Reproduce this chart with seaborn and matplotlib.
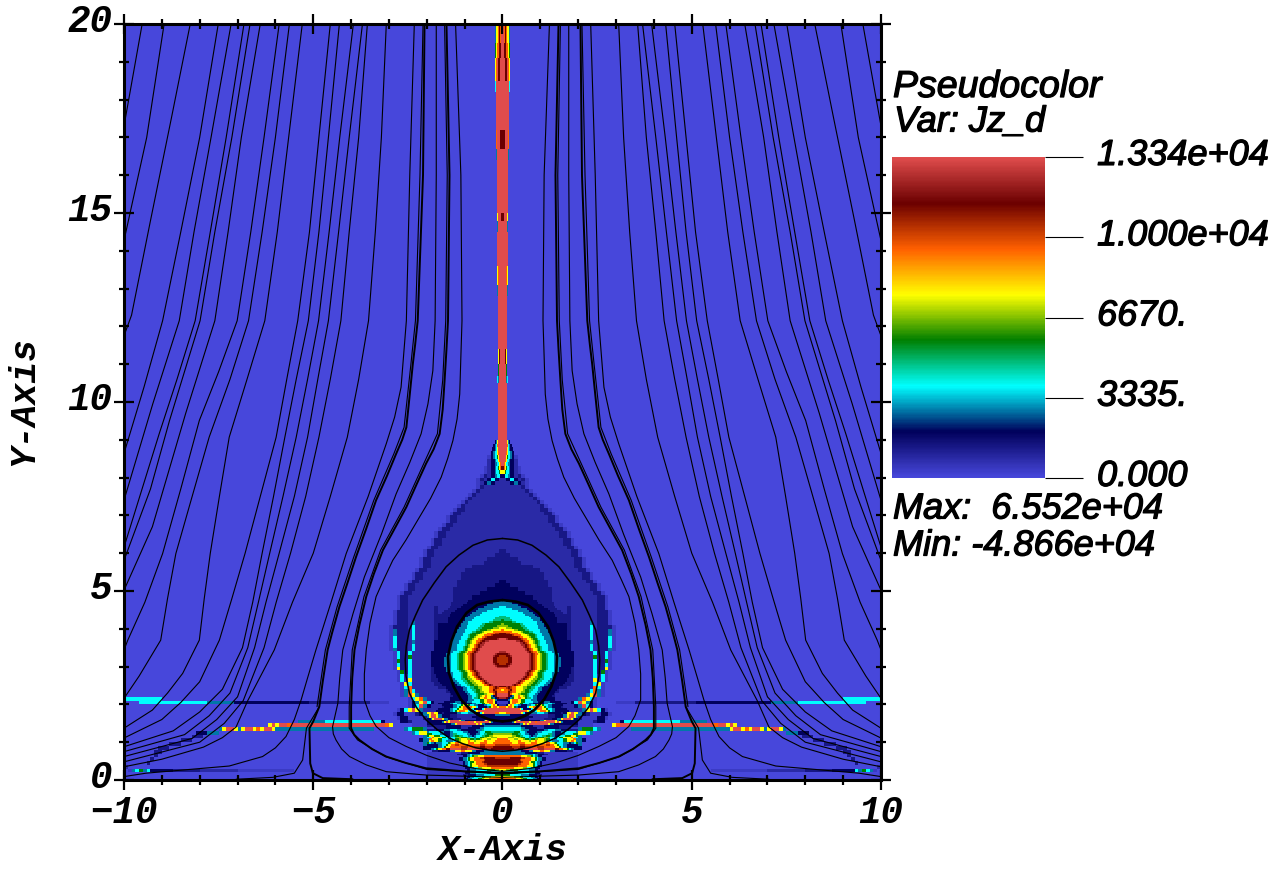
import re

import matplotlib

matplotlib.use("Agg")
import matplotlib.patheffects as pe
import matplotlib.pyplot as plt
import numpy as np
import seaborn as sns
from matplotlib.colors import LinearSegmentedColormap
from matplotlib.ticker import MultipleLocator
from matplotlib.transforms import ScaledTranslation

# VisIt "hot desaturated" colour table
CMAP_POS = [0.0, 0.143, 0.285, 0.429, 0.571, 0.714, 0.857, 1.0]
CMAP_RGB = ["#4747db", "#00005b", "#00ffff", "#007f00", "#ffff00", "#ff6000", "#6b0000", "#e04c4c"]

# Jz levels used by the character rows below
LEVEL_CHARS = ".aben" + "tcsgl" + "yohdk" + "r"
LEVEL_VALUES = [0, 350, 800, 1300, 1900, 2800, 3800, 4800, 5700, 6700, 7620, 9500, 10500, 11430, 12400, 13340]

# half grid x=0..10 in 0.1 cells, rows from y=8.9 down to y=0.0
JZ_NEAR = [
    "...",
    "...",
    "...",
    "...",
    "...a",
    "...b",
    "...b",
    "...ba",
    "...ba",
    "...bea",
    "b n c n b e a",
    "b b n t n b a",
    "bbbbb e a",
    "bbbbb b e a",
    "bbbbb bb e a",
    "bbbbb bbb e a",
    "bbbbb bbbb e a",
    "bbbbb bbbbb e a",
    "bbbbb bbbbb ee a",
    "bbbbb bbbbb b ee a",
    "bbbbb bbbbb bb ee a",
    "bbbbb bbbbb bb ee a",
    "bbbbb bbbbb bbb ee a",
    "bbbbb bbbbb bbbb ee a",
    "bbbbb bbbbb bbbbb ee a",
    "bbbbb bbbbb bbbbb ee a",
    "bbbbb bbbbb bbbbb b ee a",
    "bbbbb bbbbb bbbbb b ee a",
    "bbbbb bbbbb bbbbb bb ee a",
    "ebbbb bbbbb bbbbb bbb ee a",
    "eebbb bbbbb bbbbb bbb ee a",
    "eeeeb bbbbb bbbbb bbbb ee a",
    "eeeee bbbbb bbbbb bbbb ee a",
    "eeeee eeebb bbbbb bbbb ee a",
    "eeeee eeeee bbbbb bbbbb ee a",
    "eeeee eeeee ebbbb bbbbb b ee a",
    "eeeee eeeee ebbbb bbbbb b ee a",
    "neeee eeeee eebbb bbbbb bb ee a",
    "nneee eeeee eebbb bbbbb bbb ee a",
    "nnnne eeeee eeebb bbbbb bbb ee a",
    "nnnnn neeee eeebb bbbbb bbbb ee a",
    "nnnnn nnnee eeebb bbbbb bbbbb ee a",
    "nnnnn nnnnn eeeee ebbbb bbbbb ee a",
    "tttt nnnnnnnnnn eee bbbbbbbb ee a",
    "cc tttt nnnnnnnnn eee bbbbbbb ee a",
    "ccccc tt nnnnnnnn eee bbbbbbb eee a",
    "s cccccc tt nnnnnn eee bbbbbbb eee a",
    "sss ccccc tt nnnnnn ee bbbbbbb eee a",
    "gggg s cccc tt nnnnn ee bbbbb t b eee a",
    "gggggg s ccc tt nnnn ee bbbbb c b eee e a",
    "oo yy ggg s ccc tt nnnn e bbbbb c b eee t a",
    "dd oo yy gg s cc tt nnnn e bbbbb c b eee t a",
    "dddd oo y gg s cc tt nnn e bbbbb c b eee c a",
    "rrrr dd o y g s cc tt nnnn bbbbb t b eee c a",
    "rrrrr d h o y g cc tt nnnn bbbbb c b eee c a",
    "k rrrrr d o y g cc tt nnnn bbbbb c b eee t a",
    "hd rrrrr d o y g cc t t nnnn bbbbb c ee c a",
    "hd rrrrr d o y g cc t t nnnn bbbbb g ee c a",
    "hd rrrrr d o y g cc t t nnnn bbbbb c ee g a",
    "dk rrrrr d o y g cc t t nnnn bbbbb c ee c a",
    "rrrrrr d o y g cc tt nnnn e bbbbb c ee y a",
    "rrrrrr d o y g cc tt nnnn e bbbbb c e g a",
    "rrrrr d o y g s cc tt nnn ee bbbbb c b c a",
    "rrrr d o y l g s c tt nnnn ee bbbbb y b c a",
    "rrr d o yy gg s c tt nnn ee bbbbbb c y a",
    "oo d o yy l g s c tt nnn ee bbbbbbb o c a",
    "rr d o y l gg s c t nn ee bbbbbbbb c o t a",
    "kd o yy g s c tt nn ee bbbbbbbb t y r t a",
    "nn d y l g c t nn e bbbbbbbbb t o y c a",
    "aa y o y c t n t c t n ee bbbb n c r y t n a",
    "oo y ooo y c y o y c t nn e bbb n t r c n a",
    "rrrrrr o y t c t nn ee bbbbbb t y r y c n a",
    "nn t y t nnnn bbbb eee n y r y t n e aaa nn a",
    "nnnnn bbbbbbbb t y rr y t n e aaaa nn a",
    "nnnnn t y rrrrrrr y t n e aaaaaa e nn",
    "cc tt nnn tt ccc t nn eee t n aaaa",
    "lll g s t n t cccc ttt nn ee n t ggg c t",
    "yyyy l g c t c gg s c t n aa t c gyy c t",
    "ooo yy l yy l g s c t n t c yy g c t",
    "ooo yyy ooo yyy ooo g c t n t t n",
    "hhh ooo hhh oooo yy oo y g c t",
    "ddd rrrr dddd rrrrr o y c t n",
    "ttttt ttt n e a",
    "ooooo oo y g c t a",
    "ddddd h o y g c t a",
    "ddddd h o y g c a",
    "ooooo o y c c t a",
    "ccccc c t t n",
    "yyyyy y g c c t n a",
    "ooooo o y g c t n a",
]

# thin features further out: row y, first cell, text
FAR_Y = [2.0, 2.1, 1.5, 1.4, 1.3, 1.3, 1.2, 0.2, 0.2, 0.3, 0.4, 0.5, 0.6, 0.7, 0.8, 0.9, 1.0, 1.1]
FAR_START = [30, 90, 31, 29, 34, 59, 75, 55, 93, 99, 93, 92, 91, 90, 88, 85, 82, 79]
FAR_TEXT = [
    "aaaaaeeeeeeeeeeeeeeeennnnnnnnnnnnnnnnnnnntttttttcccccccccccccccccc",
    "cccccccccc",
    "ncccccccccccccccttttttt",
    "yorrrrrrrrrrrrrrrrrrrrrrrrrorryry",
    "ttttttttttttttttttttttttt",
    "tyrryoyrrytyrryt",
    "tttnnn",
    "aaaaaaaaaaaaaaabbbbbbbbbbeeeeeeennnnnn",
    "ctgcta",
    "b",
    "e",
    "e",
    "e",
    "ee",
    "eee",
    "eee",
    "eee",
    "eee",
]

# finer patch round the bubble: x=0..2 in 0.05 cells, rows from y=4.75 down to y=0.0
# run lengths, level letter then number of cells
BUBBLE_RLE = [
    "n16 e10 b8",
    "t2 n16 e8 b8",
    "t5 n14 e8 b7",
    "t8 n13 e6 b7",
    "c2 t8 n12 e6 b6",
    "c5 t8 n11 e5 b5",
    "c8 t6 n11 e6 b3",
    "c11 t5 n11 e5 b2",
    "c12 t5 n11 e6",
    "s2 c12 t4 n10 e6",
    "s4 c11 t5 n9 e5",
    "g1 s4 c11 t4 n9 e5",
    "g5 s2 c11 t3 n8 e5",
    "l1 g8 s2 c7 t4 n12",
    "l3 g7 s2 c7 t3 n12",
    "y2 l3 g6 s2 c6 t4 n11",
    "o1 y5 l2 g4 s2 c6 t4 n10",
    "o5 y5 l1 g3 s2 c4 t4 n10",
    "d2 h2 o4 y3 l1 g4 s1 c4 t4 n9",
    "d5 h1 o4 y3 l1 g3 s1 c3 t4 n9",
    "d8 h1 o2 y3 l1 g2 s1 c4 t4 n8",
    "r2 k1 d7 h1 o2 y2 l1 g2 s1 c3 t4 n8",
    "r7 k2 d2 h1 o2 y2 l1 g2 s1 c3 t4 n7",
    "r9 k2 d1 h1 o1 y2 l1 g2 s1 c3 t4 n7",
    "r10 k2 d1 h1 o1 y2 l1 g1 s1 c4 t3 n7",
    "r11 k1 d1 h1 o1 y2 l1 g2 s1 c3 t4 n6",
    "r12 k1 d1 h1 o1 y2 l1 g1 s1 c3 t4 n6",
    "r12 k1 d1 h1 o1 y2 l1 g1 s1 c3 t4 n6",
    "k2 r11 k1 d1 h1 o2 y1 l1 g2 s1 c3 t3 n6",
    "d3 k1 r10 k1 d1 h1 o2 y1 l1 g2 s1 c3 t3 n6",
    "h2 d2 k1 r9 k1 d1 h1 o1 y2 l1 g2 s1 c3 t3 n6",
    "h3 d2 r9 k1 d1 h1 o1 y2 l1 g2 s1 c3 t4 n5",
    "h3 d2 r9 k1 d1 h1 o1 y2 l1 g2 s1 c3 t4 n5",
    "h3 d2 r9 k1 d1 h1 o1 y2 l1 g2 s1 c3 t4 n5",
    "h2 d2 k1 r9 k1 d1 h1 o1 y2 l1 g2 s1 c3 t4 n5",
    "d3 k1 r10 k1 d1 h1 o1 y2 l1 g2 s1 c3 t4 n5",
    "k3 r11 k1 d1 h1 o1 y2 l1 g2 s1 c3 t3 n6",
    "r14 k1 d1 h1 o1 y2 l1 g2 s1 c3 t3 n6",
    "r13 k1 d1 h1 o1 y2 l1 g2 s1 c4 t3 n6",
    "r12 k1 d1 h1 o1 y2 l1 g2 s1 c4 t2 n7",
    "r12 k1 d1 h1 o1 y2 l1 g2 s1 c4 t2 n7",
    "r11 k1 d1 h1 o1 y2 l2 g2 s1 c4 t2 n7",
    "r10 k1 d1 h1 o1 y2 l2 g2 s2 c3 t2 n7",
    "r8 k1 d1 h1 o1 y3 l2 g2 s2 c3 t2 n8",
    "r7 k1 d1 h1 o1 y3 l2 g2 s2 c3 t2 n8",
    "r5 k1 d1 h1 o2 y3 l2 g2 s2 c3 t2 n8",
    "d2 k1 d1 h1 o2 y4 l2 g2 s2 c3 t2 n8",
    "o2 h1 d1 h1 o2 y4 l2 g2 s2 c2 t2 n8",
    "y1 o2 h1 d1 o2 y4 l1 g2 s2 c3 t2 n8",
    "o3 d1 h1 o2 y3 l2 g2 s1 c3 t2 n8",
    "r3 d1 o1 y3 l2 g3 s1 c3 t2 n8",
    "r3 d1 n1 t1 y2 o1 y2 l1 g1 s1 c2 t2 n8",
    "k2 d1 n1 t1 g1 y2 o2 y2 g1 s2 c1 t2 n10",
    "n3 t1 y1 o3 y2 g2 c3 t3 n10",
    "a3 n1 y1 o3 y2 g2 c4 t3 n3 t3 n6",
    "a3 n1 y1 o2 y2 g2 c3 t2 n6 t2 c2 t2 n6",
    "b2 n1 y1 o1 y1 c2 t2 n3 t2 c2 g1 y3 g1 c2 t2 n6",
    "o2 y1 o2 y1 g1 t1 n5 c1 y2 o5 y1 g1 c1 t2 n5",
    "r8 o1 y1 c1 n4 c1 y1 o4 y2 g1 c2 t2 n6",
    "r12 o1 y1 c1 n1 t1 c1 y2 o3 y1 g1 c1 t2 n7",
    "y2 o2 r6 y1 c1 n3 t3 c4 t2 n7",
    "t4 n10 b10 e4 n4 t2 y1 o1 r2 y1 t1",
    "n16 b8 e4 n4 t2 y1 r3 y1 t1",
    "n14 b8 e4 n3 t2 y1 r4 y1 t1 n2",
    "n3 t1 y1 r3 y1 t1 n10 t2 y1 r5 y1 t1 n10",
    "n5 t1 y1 r4 o1 r2 y1 r2 o1 r10 y1 r1 y1 t1 n8",
    "n9 t2 y1 r1 y1 r10 y1 t2 n13",
    "t10 n6 b6 n8 e10",
    "c10 t2 n6 b4 n8 e6 a4",
    "c10 s1 t3 n8 t2 c4 t3 n4 e5",
    "s6 g3 c3 t1 n5 t3 c5 t2 n3 t2 c6 t1",
    "l5 g3 s2 c2 t2 n3 t2 c5 s2 t2 n3 t2 c4 g3",
    "y5 l2 g2 s2 c3 t1 n1 t2 c3 s2 g2 s1 t2 n2 c3 g3 y3 g1",
    "y3 l3 y2 l2 g2 c2 t1 c2 s2 g3 l2 s1 c2 t1 c2 g2 y4 o1 y1",
    "o3 y3 l2 y3 l1 g2 s1 g2 l2 y3 l1 g2 c2 t2 c3 g2 y3 o2",
    "o4 y4 o2 y4 l1 y2 o1 y4 l1 g1 c2 t4 c2 g2 y2 o2 y1",
    "o5 y3 o4 y3 o3 y5 o2 y2 l1 g1 c3 t3 n1 t2 c1 g1",
    "h4 o5 h3 o6 h1 o4 h2 o2 y2 g1 c2 t2 n6",
    "d5 h4 d3 h3 o3 h4 o6 y2 g1 c1 t2 n6",
    "d6 k2 d3 r8 k3 r6 d2 o2 y2 g1 c1 t2 n2",
    "t10 n4 t2 y4 o2 y3 t3 n6 e3",
    "t12 n6 e4 a18",
    "t16 c1 t2 n3 e2 a16",
    "o10 y3 l2 g1 c1 t2 n2 a19",
    "h4 d6 h2 o3 y2 g1 c1 t2 n2 a17",
    "d9 h1 o5 y2 g1 c1 t2 n2 a17",
    "d10 h1 o3 y1 g2 c1 t2 n1 a19",
    "d8 h2 o4 y2 g1 c1 t2 n1 a19",
    "h8 o5 y3 g1 c1 t1 n2 a19",
    "o6 y5 l2 c2 t2 n3 a20",
    "y2 l2 g4 c6 t3 n2 a21",
    "c6 t8 n3 e2 a21",
    "t8 c6 t3 n3 a20",
    "g4 c6 t4 n4 e3 a19",
    "y6 l3 g2 c4 t2 n2 a21",
    "o7 y3 l1 g2 c3 t2 n2 a20",
]

# jet along x=0 from y=8.0 upward: x in 0.03 cells, rows in 0.1 steps
JET_RLE = [
    "n2 c3 t2 n3", "y2 g1 c3 t1 n3", "d1 o1 y1 g1 c2 t1 n3", "r1 o1 y1 c2 t2 n3", "r2 o1 y1 c2 t1 n3",
    "r3 y1 g1 c2 t1 n2", "r3 o1 y1 c2 t1 n2", "r4 y1 c1 t1 n2", "r4 o1 c1 t1 n1", "r4 y1 t1 n1",
    "r4", "r3 t1 c1", "r3 g1", "r2 d1 y1", "r4", "r4 t1", "r3 o1 y1", "r5", "r4 t1", "d1 r3 y1", "r5",
    "r5 t1", "d2 r3 o1", "r6", "r6 c1", "r2 d2 r1 o1 y1", "r1 d2 o2 y1 g1", "r1 o1 d1 o1 y2 t1",
]
JET_COUNT = [1, 1, 1, 1, 1, 1, 1, 1, 1, 1, 15, 2, 3, 4, 14, 3, 5, 9, 3, 2, 14, 3, 5, 10, 3, 6, 4, 5]

# field lines, left half, each also drawn mirrored
LINES_X = [
    [-9.52, -10.0],
    [-8.94, -9.4, -10.0],
    [-8.25, -8.75, -9.3, -9.8, -10.0],
    [-7.51, -8.0, -8.5, -8.98, -9.47, -10.0],
    [-7.17, -7.7, -8.15, -8.54, -9.24, -10.0],
    [-6.83, -7.3, -7.72, -8.12, -8.6, -9.07, -10.0],
    [-6.67, -7.15, -7.6, -7.99, -8.8, -9.3, -10.0],
    [-6.4, -6.9, -7.25, -7.6, -8.37, -9.25, -10.0],
    [-5.9, -6.3, -6.65, -7.01, -7.5, -8.01, -8.5, -8.98, -9.45, -9.9, -10.0],
    [-5.63, -6.0, -6.35, -6.71, -7.2, -7.75, -8.2, -8.63, -8.85, -9.03, -9.6, -10.0],
    [-5.29, -5.65, -5.95, -6.28, -6.75, -7.22, -7.48, -7.72, -7.88, -8.01, -8.45, -8.85, -9.25, -10.0],
    [-4.55, -4.85, -5.1, -5.41, -5.7, -5.98, -6.4, -6.8, -7.15, -7.48, -8.0, -8.5, -9.0, -10.0],
    [-4.31, -4.6, -4.85, -5.13, -5.45, -5.75, -6.05, -6.35, -6.6, -6.87, -7.4, -8.0, -8.7, -10.0],
    [-3.94, -4.3, -4.58, -4.86, -5.15, -5.45, -5.8, -6.15, -6.45, -6.73, -7.2, -7.75, -8.4, -10.0],
    [-3.7, -4.05, -4.33, -4.6, -4.88, -5.15, -5.5, -5.9, -6.25, -6.55, -7.0, -7.55, -8.2, -10.0],
    [-3.57, -3.8, -4.05, -4.27, -4.55, -4.85, -5.2, -5.6, -5.98, -6.3, -6.85, -7.35, -8.0, -10.0],
    [-3.07, -3.2, -3.36, -3.54, -3.8, -4.1, -4.55, -5.0, -5.55, -6.03, -6.73, -7.04, -7.4, -7.9, -9.0, -10.0],
    [-2.33, -2.45, -2.54, -2.68, -2.85, -3.07, -3.55, -4.13, -4.53, -4.93, -5.15, -5.32, -5.5, -5.72, -6.0, -6.34,
     -7.22, -9.42, -10.0],
    [-1.75, -1.75, -1.78, -1.84, -1.97, -2.15, -2.45, -2.81, -3.2, -3.65, -3.95, -4.22, -4.3, -4.35, -4.49, -4.47,
     -4.4, -4.25, -4.04, -3.6, -3.07, -2.0, -0.96, 0.0],
    [-1.24, -1.1, -1.07, -1.1, -1.13, -1.2, -1.31, -1.45, -1.62, -1.9, -2.19, -2.55, -2.9, -3.14, -3.34, -3.5, -3.6,
     -3.65, -3.65, -3.5, -3.34, -3.0, -2.55, -2.0, -1.4, -0.7, 0.0],
    [-4.84, -5.18, -5.28, -5.5, -6.07, -7.04],
    [-2.1, -2.18, -2.3, -2.42, -2.6, -2.87, -3.4, -3.93, -4.37, -4.68, -4.9],
    [-1.53, -1.46, -1.5, -1.58, -1.72, -2.08, -2.6, -3.22, -3.66, -3.97, -4.05, -4.05, -3.83, -3.1, -2.0, 0.0],
]
LINES_Y = [
    [20, 17.3],
    [20, 17, 14.27],
    [20, 17.5, 14.8, 12.3, 11.75],
    [20, 17, 14.5, 12.15, 10.4, 8.64],
    [20, 17, 14.5, 12.15, 9.95, 7.4],
    [20, 17, 14.5, 12.15, 10.6, 9.16, 6.16],
    [20, 17, 14.5, 12.15, 9.5, 7.7, 5.81],
    [20, 17, 14.5, 12.15, 9.7, 6.7, 5.02],
    [20, 17, 14.5, 12.15, 10.8, 9.51, 7.7, 5.99, 4.7, 3.7, 3.44],
    [20, 17, 14.5, 12.15, 10.6, 9.07, 7.5, 5.99, 4.8, 3.7, 2.75, 2.16],
    [20, 17, 14.5, 12.15, 10.6, 9.07, 7.5, 6, 4.8, 3.7, 2.82, 2.3, 1.85, 1.37],
    [20, 17, 14.5, 12.15, 10.6, 9.07, 7.5, 6, 4.8, 3.7, 2.6, 2.05, 1.6, 1.11],
    [20, 17, 14.5, 12.15, 10.6, 9.07, 7.5, 6, 4.7, 3.5, 2.4, 1.8, 1.3, 0.88],
    [20, 17, 14.5, 12.15, 10.6, 9.07, 7.5, 6, 4.7, 3.5, 2.3, 1.7, 1.2, 0.75],
    [20, 17, 14.5, 12.15, 10.6, 9.07, 7.5, 6, 4.7, 3.5, 2.2, 1.6, 1.1, 0.62],
    [20, 17, 14.5, 12.15, 10.6, 9.07, 7.5, 6, 4.7, 3.5, 2.1, 1.5, 1.0, 0.48],
    [20, 17, 14.5, 12.15, 10.6, 9.07, 7.5, 6, 4.7, 3.44, 2.1, 1.4, 1.12, 0.87, 0.55, 0.35],
    [20, 16, 12.15, 10.39, 9.6, 8.9, 7.5, 5.99, 4.7, 3.44, 2.7, 2.12, 1.6, 1.15, 0.85, 0.62, 0.37, 0.18, 0.09],
    [20, 16, 12.15, 10.83, 9.95, 9.16, 8.4, 7.57, 6.5, 5.37, 4.4, 3.44, 2.7, 2.03, 1.41, 1.22, 1.06, 0.82, 0.62, 0.4,
     0.22, 0.13, 0.1, 0.07],
    [20, 16, 12.15, 11.2, 10.21, 9.55, 8.98, 8.5, 8.01, 7.45, 6.96, 6.35, 5.81, 5.3, 4.85, 4.15, 3.44, 2.8, 2.12, 1.7,
     1.42, 1.12, 0.89, 0.65, 0.45, 0.3, 0.23],
    [1.94, 1.37, 0.53, 0.18, 0.07, 0.02],
    [20, 16, 12.15, 11.0, 9.33, 8.63, 7.4, 5.9, 4.58, 3.44, 1.94],
    [20, 16, 12.15, 10.57, 9.16, 8.37, 7.22, 6.08, 4.85, 3.44, 1.94, 1.37, 1.06, 0.62, 0.28, 0.16],
]
THICK_X = [
    [-2.06, -2.1, -2.24, -2.31, -2.37, -2.45, -2.54, -2.65, -2.81, -3.05, -3.34, -3.6, -3.87, -4.1, -4.31, -4.5,
     -4.62, -4.75, -4.84, -5.0, -5.1, -5.08, -5.01, -4.75, -3.96],
    [-1.48, -1.4, -1.44, -1.48, -1.53, -1.58, -1.66, -1.82, -2.02, -2.28, -2.54, -2.85, -3.16, -3.4, -3.6, -3.78,
     -3.91, -3.97, -4.0, -4.0, -3.92, -3.78, -3.45, -3.07, -2.55, -2.02, -1.0, 0.0],
    [0.0, -0.4, -0.78, -1.15, -1.49, -1.8, -2.11, -2.3, -2.46, -2.54, -2.57, -2.55, -2.46, -2.28, -2.02, -1.72,
     -1.4, -1.05, -0.7, -0.35, 0.0],
    [0.0, -0.35, -0.67, -0.95, -1.2, -1.35, -1.44, -1.42, -1.29, -1.1, -0.85, -0.6, -0.32, 0.0],
]
THICK_Y = [
    [20, 16, 12.15, 11.5, 11.0, 10.2, 9.33, 9.0, 8.63, 8.05, 7.4, 6.65, 5.9, 5.2, 4.58, 3.9, 3.44, 2.6, 1.94, 1.55,
     1.37, 0.44, 0.18, 0.05, 0.02],
    [20, 16, 12.15, 11.4, 10.57, 9.8, 9.16, 8.75, 8.37, 7.8, 7.22, 6.65, 6.08, 5.45, 4.85, 4.1, 3.44, 2.7, 1.94, 1.37,
     1.2, 1.06, 0.82, 0.62, 0.45, 0.31, 0.23, 0.19],
    [6.39, 6.35, 6.21, 5.95, 5.64, 5.22, 4.76, 4.35, 3.97, 3.55, 3.18, 2.75, 2.3, 1.93, 1.59, 1.33, 1.11, 0.96, 0.85,
     0.79, 0.76],
    [4.76, 4.72, 4.63, 4.42, 4.06, 3.67, 3.27, 2.85, 2.47, 2.13, 1.86, 1.7, 1.59, 1.55],
]
THICK_WIDTH = [1.4, 1.4, 1.1, 1.9]

COLORBAR_MAX = 13340
COLORBAR_TICKS = [0, 3335, 6670, 10000, 13340]
COLORBAR_LABELS = ["0.000", "3335.", "6670.", "1.000e+04", "1.334e+04"]
LEGEND_LINES = ["Pseudocolor", "Var: Jz_d", "Max:  6.552e+04", "Min: -4.866e+04"]

W, H = 1273, 877
MONO = "Liberation Mono"
SANS = "Liberation Sans"
LEVEL = dict(zip(LEVEL_CHARS, LEVEL_VALUES))


def rect(left, top, right, bottom):
    return [left / W, 1 - bottom / H, (right - left) / W, (bottom - top) / H]


def data_rect(x0, y0, x1, y1):
    # data coordinates of the main plot to a figure rectangle
    to_x = lambda v: 124 + (v + 10) * (881 - 124) / 20
    to_y = lambda v: 780 - v * (780 - 24) / 20
    return rect(to_x(x0), to_y(y1), to_x(x1), to_y(y0))


def build_coarse():
    half = np.zeros((200, 100))
    for i, row in enumerate(JZ_NEAR):
        text = row.replace(" ", "")
        half[89 - i, : len(text)] = [LEVEL[c] for c in text]
    for y, start, text in zip(FAR_Y, FAR_START, FAR_TEXT):
        half[round(y * 10), start : start + len(text)] = [LEVEL[c] for c in text]
    return np.hstack([half[:, ::-1], half])


def rle_row(row, width):
    out = np.full(width, np.nan)
    pos = 0
    for char, count in re.findall(r"([a-z.])(\d+)", row):
        out[pos : pos + int(count)] = LEVEL[char]
        pos += int(count)
    return out


def mirror_heatmap(half, extent, cmap):
    patch_ax = fig.add_axes(data_rect(*extent))
    patch_ax.set_facecolor("none")
    sns.heatmap(np.hstack([half[:, ::-1], half]), ax=patch_ax, cmap=cmap, vmin=0, vmax=COLORBAR_MAX,
                cbar=False, xticklabels=False, yticklabels=False)
    patch_ax.set_ylim(0, half.shape[0])
    return patch_ax


cmap = LinearSegmentedColormap.from_list("hot_desaturated", list(zip(CMAP_POS, CMAP_RGB)), N=512)

sns.set_style("white")
fig = plt.figure(figsize=(W / 100, H / 100), dpi=100)

# 1. Pseudocolor field, coarse grid with finer patches over it
ax = fig.add_axes(rect(124, 24, 881, 780))
sns.heatmap(build_coarse(), ax=ax, cmap=cmap, vmin=0, vmax=COLORBAR_MAX, cbar=False,
            xticklabels=False, yticklabels=False)
ax.set_ylim(0, 200)

bubble = np.array([rle_row(row, 40) for row in BUBBLE_RLE[::-1]])
mirror_heatmap(bubble, (-2.0, 0.0, 2.0, len(BUBBLE_RLE) * 0.05), cmap)

jet_rows = []
for row, count in zip(JET_RLE, JET_COUNT):
    jet_rows += [rle_row(row, 10)] * count
mirror_heatmap(np.array(jet_rows), (-0.3, 8.0, 0.3, 8.0 + len(jet_rows) * 0.1), cmap)

# 2. Field lines and axes on top of it
over = fig.add_axes(rect(124, 24, 881, 780), facecolor="none")
for xs, ys in zip(LINES_X, LINES_Y):
    for sign in (1, -1):
        sns.lineplot(x=np.array(xs) * sign, y=ys, sort=False, estimator=None, color="black",
                     linewidth=0.8, ax=over)
for xs, ys, lw in zip(THICK_X, THICK_Y, THICK_WIDTH):
    for sign in (1, -1):
        sns.lineplot(x=np.array(xs) * sign, y=ys, sort=False, estimator=None, color="black",
                     linewidth=lw, ax=over)
over.set_xlim(-10, 10)
over.set_ylim(0, 20)
over.xaxis.set_major_locator(MultipleLocator(5))
over.xaxis.set_minor_locator(MultipleLocator(1))
over.yaxis.set_major_locator(MultipleLocator(5))
over.yaxis.set_minor_locator(MultipleLocator(1))
over.tick_params(which="major", direction="inout", length=14.4, width=1.6, top=True, right=True,
                 bottom=True, left=True, color="black", labelcolor="black")
over.tick_params(which="minor", direction="inout", length=7.2, width=1.6, top=True, right=True,
                 bottom=True, left=True, color="black")
over.tick_params(axis="x", which="major", pad=3.5)
over.tick_params(axis="y", which="major", pad=1)
for lab in over.get_xticklabels() + over.get_yticklabels():
    lab.set(family=MONO, weight="bold", style="italic", fontsize=27)
up = ScaledTranslation(0, 4 / 72, fig.dpi_scale_trans)
for lab in over.get_yticklabels():
    lab.set_transform(lab.get_transform() + up)
for spine in over.spines.values():
    spine.set_visible(True)
    spine.set_linewidth(2.2)
    spine.set_color("black")
over.set_axisbelow(False)

axis_font = dict(family=MONO, weight="bold", style="italic", fontsize=26, color="black")
fig.text(503 / W, 1 - 851 / H, "X-Axis", ha="center", va="center", **axis_font)
fig.text(24 / W, 1 - 401 / H, "Y-Axis", ha="center", va="center", rotation=90, **axis_font)

# 3. Colour bar
heavy = [pe.withStroke(linewidth=0.9, foreground="black")]
cax = fig.add_axes(rect(892, 157, 1045, 478))
ramp = np.linspace(0, COLORBAR_MAX, 256).reshape(-1, 1)
sns.heatmap(ramp, ax=cax, cmap=cmap, vmin=0, vmax=COLORBAR_MAX, cbar=False,
            xticklabels=False, yticklabels=False)
cax.set_ylim(0, 256)
cax.yaxis.tick_right()
cax.set_yticks(np.array(COLORBAR_TICKS) / COLORBAR_MAX * 256)
cax.set_yticklabels(COLORBAR_LABELS, family=SANS, style="italic", fontsize=26, color="black",
                    path_effects=heavy)
cax.tick_params(axis="y", length=27.5, width=0.8, pad=10, right=True, color="black")
for lab in cax.get_yticklabels():
    lab.set_transform(lab.get_transform() + up)

# 4. Legend text
legend_pos = [(893, 87), (894, 122), (893, 509), (893, 546)]
for (px, py), line in zip(legend_pos, LEGEND_LINES):
    fig.text(px / W, 1 - py / H, line, family=SANS, style="italic", fontsize=27 if "Pseudo" in line else 26,
             va="center", ha="left", color="black", path_effects=heavy)

fig.savefig("out.png", dpi=100)
